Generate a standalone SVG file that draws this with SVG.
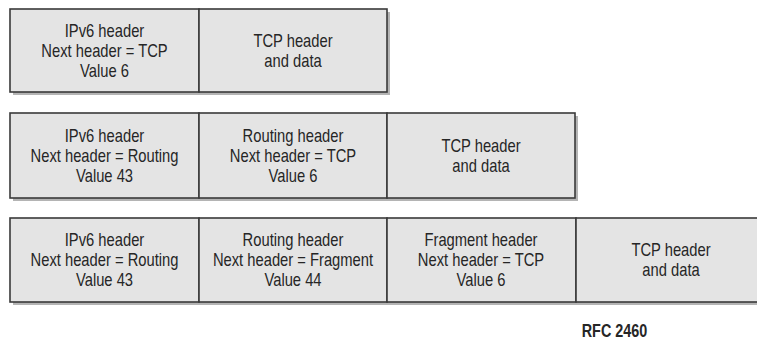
<svg xmlns="http://www.w3.org/2000/svg" width="757" height="340" viewBox="0 0 757 340">
  <defs>
    <style>
      .shadow { fill: #b4b4b4; }
      .cell { fill: #e4e4e4; stroke: #3a3a3a; stroke-width: 1.6; }
      .lbl { font-family: "Liberation Sans", Arial, sans-serif; font-size: 18px; fill: #262626; text-anchor: middle; }
      .tag { font-family: "Liberation Sans", Arial, sans-serif; font-size: 18px; font-weight: bold; fill: #262626; text-anchor: middle; }
    </style>
  </defs>
  <rect width="757" height="340" fill="#ffffff"/>

  <!-- Packet 1: IPv6 + TCP -->
  <g id="packet1">
    <rect class="shadow" x="13" y="12" width="377" height="83"/>
    <g id="p1-ipv6">
      <rect class="cell" x="10" y="9" width="189" height="83"/>
      <text class="lbl" transform="translate(104.5,37) scale(0.82,1)">IPv6 header</text>
      <text class="lbl" transform="translate(104.5,57) scale(0.82,1)">Next header = TCP</text>
      <text class="lbl" transform="translate(104.5,77) scale(0.82,1)">Value 6</text>
    </g>
    <g id="p1-tcp">
      <rect class="cell" x="199" y="9" width="188" height="83"/>
      <text class="lbl" transform="translate(293,47) scale(0.82,1)">TCP header</text>
      <text class="lbl" transform="translate(293,67) scale(0.82,1)">and data</text>
    </g>
  </g>

  <!-- Packet 2: IPv6 + Routing + TCP -->
  <g id="packet2">
    <rect class="shadow" x="13" y="116" width="565" height="85"/>
    <g id="p2-ipv6">
      <rect class="cell" x="10" y="113" width="189" height="85"/>
      <text class="lbl" transform="translate(104.5,142) scale(0.82,1)">IPv6 header</text>
      <text class="lbl" transform="translate(104.5,162) scale(0.82,1)">Next header = Routing</text>
      <text class="lbl" transform="translate(104.5,182) scale(0.82,1)">Value 43</text>
    </g>
    <g id="p2-routing">
      <rect class="cell" x="199" y="113" width="188" height="85"/>
      <text class="lbl" transform="translate(293,142) scale(0.82,1)">Routing header</text>
      <text class="lbl" transform="translate(293,162) scale(0.82,1)">Next header = TCP</text>
      <text class="lbl" transform="translate(293,182) scale(0.82,1)">Value 6</text>
    </g>
    <g id="p2-tcp">
      <rect class="cell" x="387" y="113" width="188" height="85"/>
      <text class="lbl" transform="translate(481,152) scale(0.82,1)">TCP header</text>
      <text class="lbl" transform="translate(481,172) scale(0.82,1)">and data</text>
    </g>
  </g>

  <!-- Packet 3: IPv6 + Routing + Fragment + TCP -->
  <g id="packet3">
    <rect class="shadow" x="13" y="221" width="760" height="84"/>
    <g id="p3-ipv6">
      <rect class="cell" x="10" y="218" width="189" height="84"/>
      <text class="lbl" transform="translate(104.5,246) scale(0.82,1)">IPv6 header</text>
      <text class="lbl" transform="translate(104.5,266) scale(0.82,1)">Next header = Routing</text>
      <text class="lbl" transform="translate(104.5,286) scale(0.82,1)">Value 43</text>
    </g>
    <g id="p3-routing">
      <rect class="cell" x="199" y="218" width="188" height="84"/>
      <text class="lbl" transform="translate(293,246) scale(0.82,1)">Routing header</text>
      <text class="lbl" transform="translate(293,266) scale(0.82,1)">Next header = Fragment</text>
      <text class="lbl" transform="translate(293,286) scale(0.82,1)">Value 44</text>
    </g>
    <g id="p3-fragment">
      <rect class="cell" x="387" y="218" width="189" height="84"/>
      <text class="lbl" transform="translate(481,246) scale(0.82,1)">Fragment header</text>
      <text class="lbl" transform="translate(481,266) scale(0.82,1)">Next header = TCP</text>
      <text class="lbl" transform="translate(481,286) scale(0.82,1)">Value 6</text>
    </g>
    <g id="p3-tcp">
      <rect class="cell" x="576" y="218" width="200" height="84"/>
      <text class="lbl" transform="translate(671,256) scale(0.82,1)">TCP header</text>
      <text class="lbl" transform="translate(671,276) scale(0.82,1)">and data</text>
    </g>
  </g>

  <g id="connectors"/>

  <text class="tag" transform="translate(614.5,337) scale(0.8,1)">RFC 2460</text>
</svg>
